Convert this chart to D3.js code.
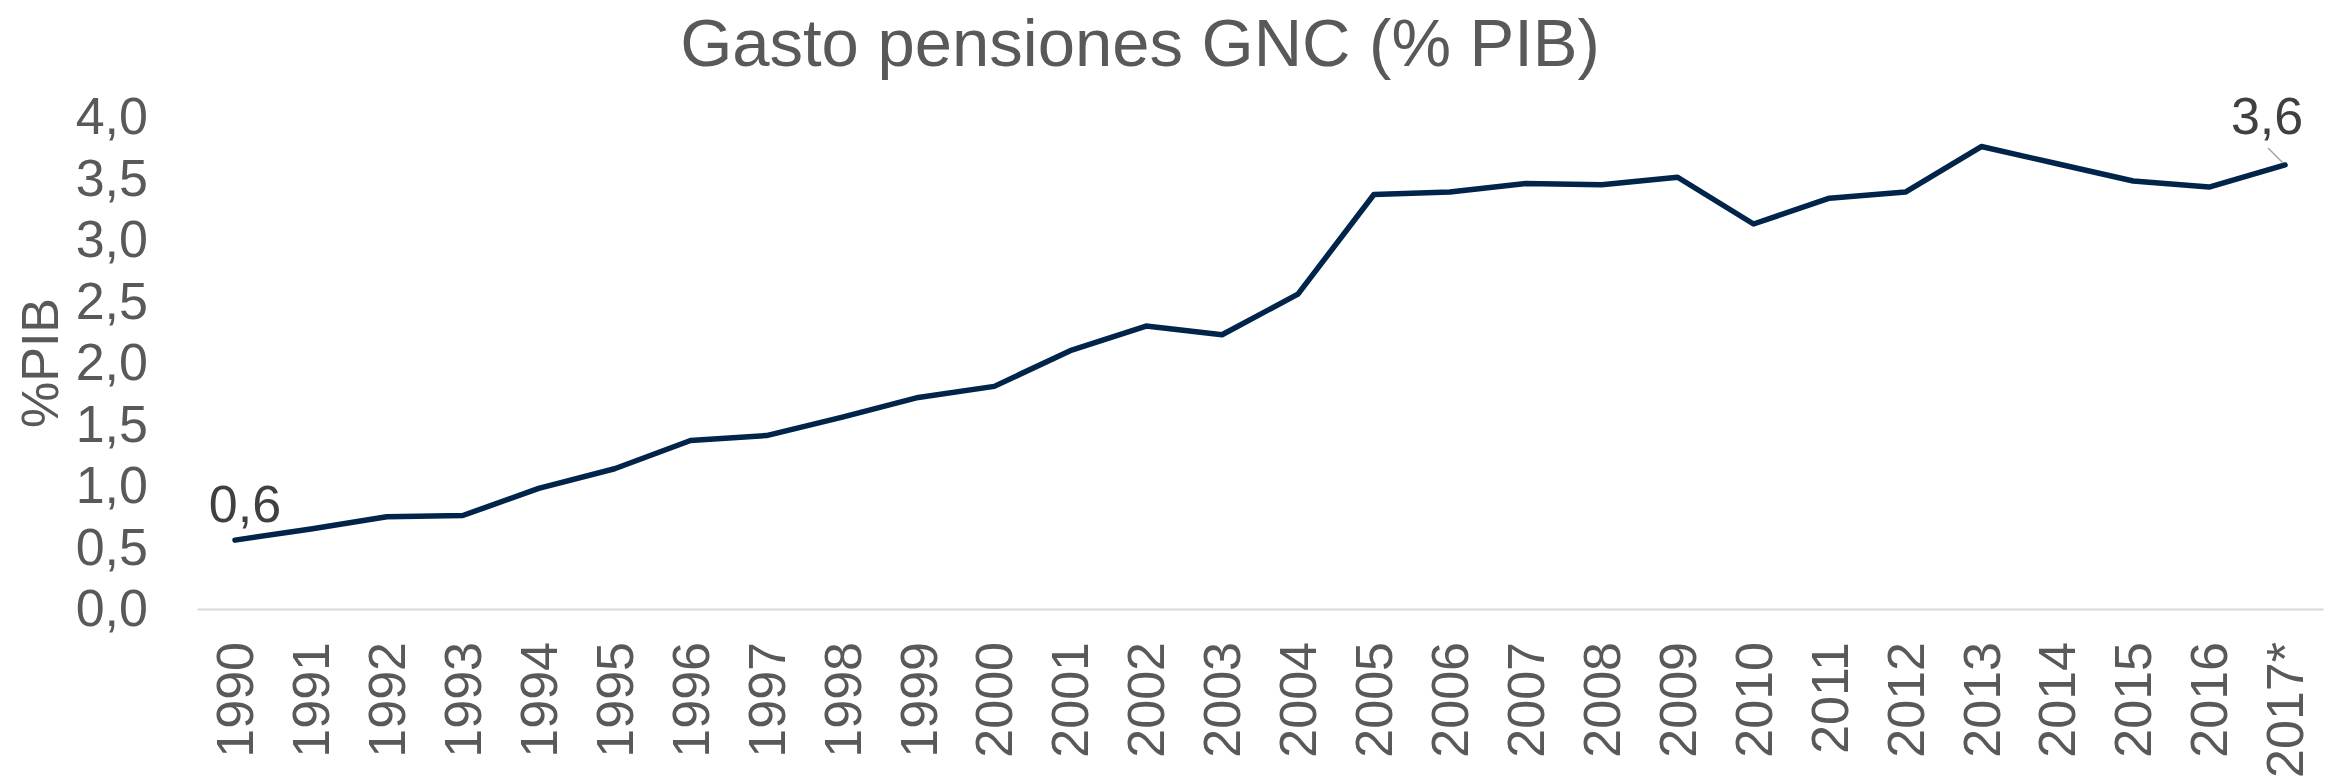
<!DOCTYPE html>
<html lang="es">
<head>
    <meta charset="UTF-8">
    <title>Gasto pensiones GNC (% PIB)</title>
    <script src="https://d3js.org/d3.v7.min.js"></script>
    <style>
        body {
            margin: 0;
            padding: 0;
            background: #ffffff;
            font-family: "Liberation Sans", Arial, sans-serif;
        }

        .tick text {
            fill: #595959;
            font-size: 52px;
            font-family: "Liberation Sans", Arial, sans-serif;
        }

        .axis-x .domain {
            stroke: #d9d9d9;
            stroke-width: 2px;
        }
    </style>
</head>
<body>
    <svg id="chart" width="2336" height="779"></svg>

    <script>
        // Data
        const years = ["1990", "1991", "1992", "1993", "1994", "1995", "1996", "1997", "1998", "1999",
                       "2000", "2001", "2002", "2003", "2004", "2005", "2006", "2007", "2008", "2009",
                       "2010", "2011", "2012", "2013", "2014", "2015", "2016", "2017*"];
        const gasto = [0.56, 0.65, 0.75, 0.76, 0.98, 1.14, 1.37, 1.41, 1.56, 1.72,
                       1.81, 2.10, 2.30, 2.23, 2.56, 3.37, 3.39, 3.46, 3.45, 3.51,
                       3.13, 3.34, 3.39, 3.76, 3.62, 3.48, 3.43, 3.61];
        const yTicks = [0, 0.5, 1, 1.5, 2, 2.5, 3, 3.5, 4];

        const title = "Gasto pensiones GNC (% PIB)";
        const yTitle = "%PIB";

        const data = years.map((y, i) => ({ year: y, value: gasto[i] }));
        const fmt = v => d3.format(".1f")(v).replace(".", ",");

        document.addEventListener("DOMContentLoaded", function() {
            const margin = { top: 117, right: 13, bottom: 170, left: 197 };
            const width = 2336;
            const height = 779;

            const svg = d3.select("#chart");

            // Scales
            const x = d3.scaleBand()
                .domain(years)
                .range([margin.left, width - margin.right])
                .padding(0);

            const y = d3.scaleLinear()
                .domain([0, 4])
                .range([height - margin.bottom, margin.top]);

            const cx = d => x(d) + x.bandwidth() / 2;

            // Title
            svg.append("text")
                .attr("x", 1140)
                .attr("y", 66)
                .attr("text-anchor", "middle")
                .style("font-size", "67px")
                .style("fill", "#595959")
                .text(title);

            // Y axis (labels only)
            const yAxis = svg.append("g")
                .attr("class", "axis-y")
                .attr("transform", `translate(${margin.left},0)`)
                .call(d3.axisLeft(y).tickValues(yTicks).tickFormat(fmt).tickSize(0).tickPadding(49));
            yAxis.select(".domain").remove();

            // Y axis title
            svg.append("text")
                .attr("transform", `translate(58,${(y(0) + y(4)) / 2}) rotate(-90)`)
                .attr("text-anchor", "middle")
                .style("font-size", "52px")
                .style("fill", "#595959")
                .text(yTitle);

            // X axis with vertical labels
            svg.append("g")
                .attr("class", "axis-x")
                .attr("transform", `translate(0,${y(0)})`)
                .call(d3.axisBottom(x).tickSize(0).tickSizeOuter(0))
                .selectAll("text")
                .attr("transform", "rotate(-90)")
                .attr("x", -33)
                .attr("y", 0)
                .attr("dy", "0.35em")
                .style("text-anchor", "end");

            // Line
            const line = d3.line()
                .x(d => cx(d.year))
                .y(d => y(d.value));

            svg.append("path")
                .datum(data)
                .attr("fill", "none")
                .attr("stroke", "#00244a")
                .attr("stroke-width", 5.5)
                .attr("stroke-linejoin", "round")
                .attr("stroke-linecap", "round")
                .attr("d", line);

            // Data labels for first and last point
            const first = data[0];
            const last = data[data.length - 1];

            svg.append("text")
                .attr("x", cx(first.year) + 10)
                .attr("y", y(first.value) - 18)
                .attr("text-anchor", "middle")
                .style("font-size", "52px")
                .style("fill", "#404040")
                .text(fmt(first.value));

            svg.append("line")
                .attr("x1", cx(last.year) - 17)
                .attr("y1", y(last.value) - 17)
                .attr("x2", cx(last.year) - 2)
                .attr("y2", y(last.value) - 2)
                .attr("stroke", "#a6a6a6")
                .attr("stroke-width", 1.5);

            svg.append("text")
                .attr("x", cx(last.year) - 18)
                .attr("y", y(last.value) - 31)
                .attr("text-anchor", "middle")
                .style("font-size", "52px")
                .style("fill", "#404040")
                .text(fmt(last.value));
        });
    </script>
</body>
</html>
